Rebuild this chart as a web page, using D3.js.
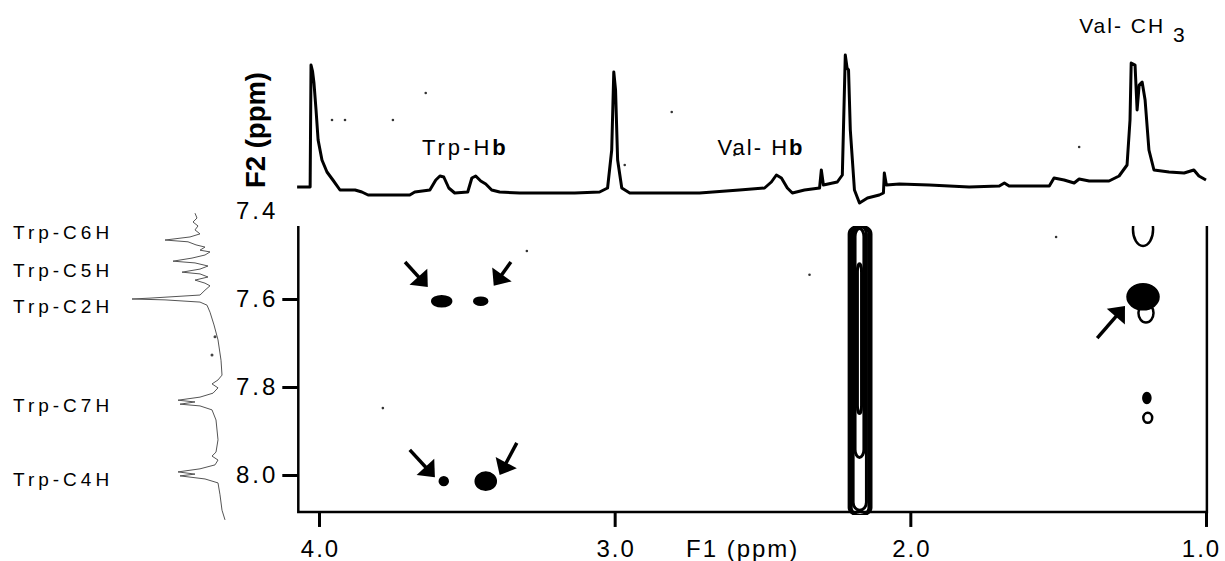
<!DOCTYPE html>
<html lang="en">
<head>
<meta charset="utf-8">
<title>NOESY Trp / Val</title>
<style>
  body { margin: 0; background: #fff; }
  text { font-family: "Liberation Sans", Arial, sans-serif; fill: #000; }
</style>
</head>
<body>
<div id="chart"></div>
<script src="https://d3js.org/d3.v7.min.js"></script>
<script>
// axis ticks (ppm)
var xTicks = [4.0, 3.0, 2.0, 1.0];
var yTicks = [7.4, 7.6, 7.8, 8.0];

// F1 projection on top: [ppm, intensity]
var topTrace = [
  [4.074, 6], [4.030, 6], [4.027, 128], [4.022, 122], [4.017, 110], [4.010, 83], [4.003, 53],
  [3.990, 33], [3.973, 21], [3.953, 13], [3.929, 3], [3.878, 3], [3.855, 1], [3.834, -2],
  [3.693, -2], [3.676, 1], [3.625, 3], [3.605, 13], [3.591, 17], [3.578, 16], [3.561, 5],
  [3.541, 0], [3.497, 1], [3.483, 15], [3.470, 17], [3.453, 12], [3.436, 9], [3.416, 3],
  [3.389, 1], [3.321, 0], [3.236, 0], [3.135, 0], [3.051, 1], [3.024, 5], [3.010, 43],
  [3.003, 121], [2.997, 103], [2.990, 33], [2.976, 5], [2.949, 0], [2.848, 0], [2.713, 0],
  [2.578, 3], [2.493, 5], [2.470, 11], [2.453, 18], [2.436, 15], [2.416, 5], [2.399, 0],
  [2.358, 3], [2.307, 5], [2.301, 23], [2.294, 8], [2.247, 11], [2.230, 18], [2.220, 138],
  [2.214, 125], [2.209, 123], [2.203, 63], [2.189, 3], [2.172, -10], [2.145, -5], [2.105, -2],
  [2.091, 0], [2.088, 20], [2.081, 8], [2.037, 9], [1.936, 8], [1.801, 6], [1.699, 7],
  [1.682, 10], [1.666, 7], [1.530, 7], [1.514, 15], [1.480, 13], [1.446, 10], [1.429, 14],
  [1.395, 12], [1.328, 12], [1.294, 17], [1.267, 28], [1.257, 73], [1.253, 130], [1.240, 128],
  [1.233, 83], [1.226, 108], [1.216, 111], [1.206, 93], [1.193, 43], [1.176, 23], [1.125, 21],
  [1.074, 20], [1.041, 23], [1.024, 17], [1.000, 13]
];

// F2 projection on the left: [ppm, intensity]
var sideTrace = [
  [7.405, 30], [7.416, 28], [7.425, 32], [7.434, 27], [7.443, 30], [7.452, 25], [7.459, 35],
  [7.466, 60], [7.470, 37], [7.477, 29], [7.482, 20], [7.489, 25], [7.493, 15], [7.500, 20],
  [7.507, 33], [7.514, 52], [7.518, 30], [7.525, 17], [7.532, 25], [7.539, 43], [7.543, 25],
  [7.550, 17], [7.557, 30], [7.564, 20], [7.570, 15], [7.580, 20], [7.591, 25], [7.598, 75],
  [7.600, 93], [7.602, 60], [7.607, 25], [7.614, 18], [7.630, 15], [7.659, 11], [7.693, 7],
  [7.739, 4], [7.773, 3], [7.784, 7], [7.793, 13], [7.802, 7], [7.814, 12], [7.823, 25],
  [7.830, 47], [7.834, 30], [7.839, 45], [7.843, 25], [7.852, 13], [7.875, 9], [7.920, 7],
  [7.948, 9], [7.957, 13], [7.966, 7], [7.977, 10], [7.986, 25], [7.993, 47], [7.998, 30],
  [8.002, 45], [8.009, 20], [8.018, 7], [8.045, 5], [8.080, 3], [8.102, 0]
];
var sideDots = [[7.686, 10], [7.727, 13]];

// cross peaks: f1, f2, width f1, height f2, filled or open contour
var peakF1 = [3.585, 3.453, 3.578, 3.436, 1.213, 1.213, 1.203, 1.200, 1.197];
var peakF2 = [7.605, 7.605, 8.014, 8.014, 7.442, 7.595, 7.632, 7.825, 7.870];
var peakW  = [0.064, 0.044, 0.027, 0.068, 0.068, 0.105, 0.051, 0.024, 0.030];
var peakH  = [0.023, 0.016, 0.018, 0.039, 0.075, 0.057, 0.043, 0.023, 0.023];
var peakFill = [true, true, true, true, false, true, false, true, false];

// the t1-noise stripe near 2.17 ppm, drawn as nested contour levels
var stripeF1 = [2.170, 2.170, 2.171, 2.172, 2.172];
var stripeW  = [0.074, 0.060, 0.045, 0.030, 0.014];
var stripeTop = [7.434, 7.434, 7.434, 7.44, 7.52];
var stripeBottom = [8.092, 8.092, 8.08, 7.96, 7.86];

// stray noise points
var noise2D = [[3.297, 7.491], [2.341, 7.545], [1.507, 7.459], [3.784, 7.848]];
var noiseTop = [[3.956, 73], [3.912, 73], [3.750, 73], [3.639, 100], [2.966, 28], [2.807, 81], [2.595, 38], [1.429, 46]];

// arrows [from f1, from f2, to f1, to f2]
var arrows = [
  [3.709, 7.516, 3.632, 7.573],
  [3.351, 7.516, 3.409, 7.570],
  [3.693, 7.943, 3.608, 8.005],
  [3.331, 7.927, 3.389, 8.000],
  [1.368, 7.689, 1.274, 7.616]
];

var sideLabels = ["Trp-C6H", "Trp-C5H", "Trp-C2H", "Trp-C7H", "Trp-C4H"];
var sideLabelPpm = [7.448, 7.534, 7.616, 7.841, 8.011];

var width = 1225, height = 561;
var box = {f1a: 4.07, f1b: 0.997, f2a: 7.434, f2b: 8.084};

var x = d3.scaleLinear().domain([4.0, 1.0]).range([319, 1206]);
var y = d3.scaleLinear().domain([7.4, 8.0]).range([211, 475]);
var topY = d3.scaleLinear().domain([0, 135]).range([193, 58]);
var sideX = d3.scaleLinear().domain([0, 100]).range([225, 125]);

var svg = d3.select("#chart")
    .append("svg")
    .attr("width", width)
    .attr("height", height);

svg.append("rect").attr("width", width).attr("height", height).attr("fill", "#fff");

var defs = svg.append("defs");
defs.append("clipPath").attr("id", "plotClip")
    .append("rect")
    .attr("x", x(box.f1a)).attr("y", y(box.f2a))
    .attr("width", x(box.f1b) - x(box.f1a))
    .attr("height", y(box.f2b) - y(box.f2a) + 3);

defs.append("marker")
    .attr("id", "head")
    .attr("viewBox", "-15 -13 16 26")
    .attr("refX", -6).attr("refY", 0)
    .attr("markerWidth", 16).attr("markerHeight", 26)
    .attr("markerUnits", "userSpaceOnUse")
    .attr("orient", "auto")
    .append("path")
    .attr("d", "M0,0L-14,-12L-14,12Z")
    .attr("fill", "#000");

// top projection
svg.append("path")
    .datum(topTrace)
    .attr("fill", "none")
    .attr("stroke", "#000")
    .attr("stroke-width", 3)
    .attr("stroke-linejoin", "round")
    .attr("d", d3.line()
        .x(function(d) { return x(d[0]); })
        .y(function(d) { return topY(d[1]); }));

svg.append("g").selectAll("circle")
    .data(noiseTop)
    .enter().append("circle")
    .attr("cx", function(d) { return x(d[0]); })
    .attr("cy", function(d) { return topY(d[1]); })
    .attr("r", 1.3)
    .attr("fill", "#333");

// side projection
svg.append("path")
    .datum(sideTrace)
    .attr("fill", "none")
    .attr("stroke", "#555")
    .attr("stroke-width", 1)
    .attr("d", d3.line()
        .x(function(d) { return sideX(d[1]); })
        .y(function(d) { return y(d[0]); }));

svg.append("g").selectAll("circle")
    .data(sideDots)
    .enter().append("circle")
    .attr("cx", function(d) { return sideX(d[1]); })
    .attr("cy", function(d) { return y(d[0]); })
    .attr("r", 1.5)
    .attr("fill", "#444");

svg.append("g").selectAll("text")
    .data(sideLabels)
    .enter().append("text")
    .attr("x", 13)
    .attr("y", function(d, i) { return y(sideLabelPpm[i]); })
    .attr("dy", "0.35em")
    .style("font-size", "19px")
    .style("letter-spacing", "4px")
    .text(function(d) { return d; });

// 2D region
var plot = svg.append("g").attr("clip-path", "url(#plotClip)");

plot.selectAll("rect.stripe")
    .data(stripeF1)
    .enter().append("rect")
    .attr("class", "stripe")
    .attr("x", function(d, i) { return x(d + stripeW[i] / 2); })
    .attr("width", function(d, i) { return x(d - stripeW[i] / 2) - x(d + stripeW[i] / 2); })
    .attr("y", function(d, i) { return y(stripeTop[i]); })
    .attr("height", function(d, i) { return y(stripeBottom[i]) - y(stripeTop[i]); })
    .attr("rx", function(d, i) { return (x(d - stripeW[i] / 2) - x(d + stripeW[i] / 2)) / 2; })
    .attr("ry", 8)
    .attr("fill", "none")
    .attr("stroke", "#000")
    .attr("stroke-width", 3);

plot.selectAll("ellipse")
    .data(peakF1)
    .enter().append("ellipse")
    .attr("cx", function(d) { return x(d); })
    .attr("cy", function(d, i) { return y(peakF2[i]); })
    .attr("rx", function(d, i) { return x(d - peakW[i] / 2) - x(d); })
    .attr("ry", function(d, i) { return y(peakF2[i] + peakH[i] / 2) - y(peakF2[i]); })
    .attr("fill", function(d, i) { return peakFill[i] ? "#000" : "none"; })
    .attr("stroke", "#000")
    .attr("stroke-width", 2.5);

plot.selectAll("circle")
    .data(noise2D)
    .enter().append("circle")
    .attr("cx", function(d) { return x(d[0]); })
    .attr("cy", function(d) { return y(d[1]); })
    .attr("r", 1.3)
    .attr("fill", "#333");

// arrows
svg.append("g").selectAll("line")
    .data(arrows)
    .enter().append("line")
    .each(function(d) {
        var x0 = x(d[0]), y0 = y(d[1]), x1 = x(d[2]), y1 = y(d[3]);
        var len = Math.sqrt((x1 - x0) * (x1 - x0) + (y1 - y0) * (y1 - y0));
        d3.select(this)
            .attr("x1", x0).attr("y1", y0)
            .attr("x2", x1 - 6 * (x1 - x0) / len)
            .attr("y2", y1 - 6 * (y1 - y0) / len);
    })
    .attr("stroke", "#000")
    .attr("stroke-width", 3.5)
    .attr("marker-end", "url(#head)");

// frame
svg.append("path")
    .attr("d", "M" + x(box.f1a) + "," + y(box.f2a) + "V" + y(box.f2b) + "H" + x(box.f1b) + "V" + y(box.f2a))
    .attr("fill", "none")
    .attr("stroke", "#000")
    .attr("stroke-width", 2.5);

// axes
var yAxis = svg.append("g")
    .attr("transform", "translate(" + x(box.f1a) + ",0)")
    .call(d3.axisLeft(y).tickValues(yTicks).tickSize(16).tickPadding(4).tickFormat(d3.format(".1f")));
yAxis.select(".domain").remove();
yAxis.selectAll("line")
    .attr("stroke-width", 3)
    .attr("opacity", function(d) { return d < box.f2a ? 0 : 1; });
yAxis.selectAll("text")
    .style("font-size", "24px")
    .style("letter-spacing", "3px")
    .style("font-family", "'Liberation Sans', Arial, sans-serif");

var xAxis = svg.append("g")
    .attr("transform", "translate(0," + y(box.f2b) + ")")
    .call(d3.axisBottom(x).tickValues(xTicks).tickSize(15).tickPadding(13).tickFormat(d3.format(".1f")));
xAxis.select(".domain").remove();
xAxis.selectAll("line").attr("stroke-width", 3);
xAxis.selectAll("text")
    .attr("dx", function(d) { return d === 1.0 ? "-5px" : "1px"; })
    .style("font-size", "24px")
    .style("letter-spacing", "2px")
    .style("font-family", "'Liberation Sans', Arial, sans-serif");

svg.append("text")
    .attr("x", 686).attr("y", 557)
    .style("font-size", "24px")
    .style("letter-spacing", "2px")
    .text("F1 (ppm)");

svg.append("text")
    .attr("transform", "translate(256,130) rotate(-90)")
    .attr("text-anchor", "middle")
    .attr("dominant-baseline", "central")
    .attr("textLength", 116)
    .attr("lengthAdjust", "spacingAndGlyphs")
    .style("font-size", "27px")
    .style("font-weight", "bold")
    .text("F2 (ppm)");

// peak labels on the projection
var hb = svg.append("text")
    .attr("x", x(3.652)).attr("y", topY(38))
    .style("font-size", "22px")
    .style("letter-spacing", "3px");
hb.append("tspan").text("Trp-H");
hb.append("tspan").style("font-weight", "bold").text("b");

var vb = svg.append("text")
    .attr("x", x(2.652)).attr("y", topY(38))
    .style("font-size", "22px")
    .style("letter-spacing", "2px");
vb.append("tspan").text("Val- H");
vb.append("tspan").style("font-weight", "bold").text("b");

var vc = svg.append("text")
    .attr("x", x(1.429)).attr("y", topY(160))
    .style("font-size", "21px")
    .style("letter-spacing", "2px");
vc.append("tspan").text("Val- CH ");
vc.append("tspan").attr("dy", 9).text("3");
</script>
</body>
</html>
